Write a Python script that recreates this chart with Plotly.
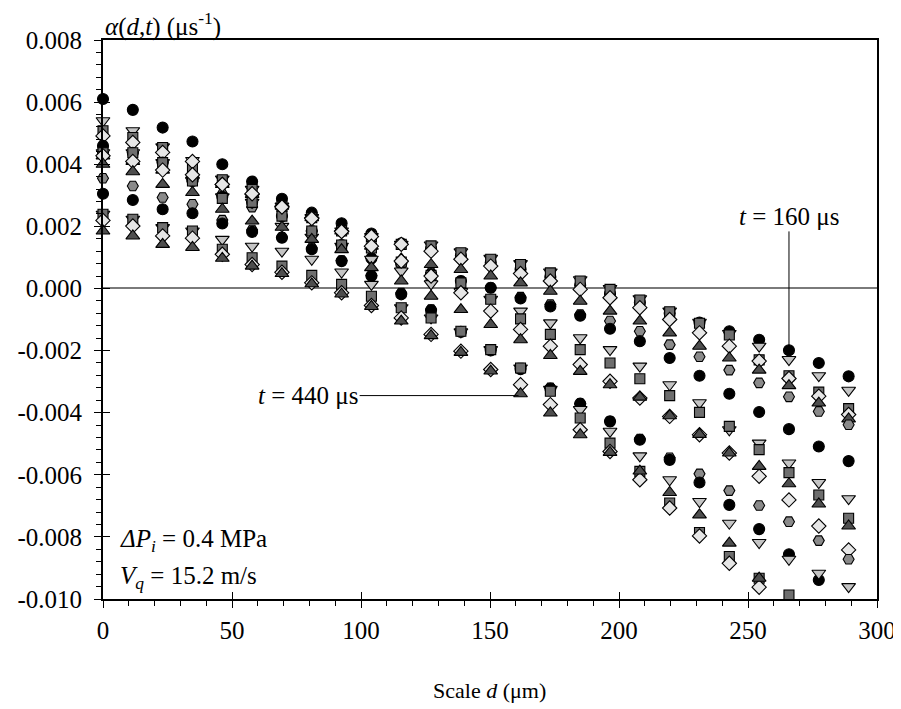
import plotly.graph_objects as go

# ---------------- data ----------------
d_um = [0, 11.56, 23.12, 34.68, 46.24, 57.8, 69.36, 80.92, 92.48, 104.04, 115.6, 127.16, 138.72,
        150.28, 161.84, 173.4, 184.96, 196.52, 208.08, 219.64, 231.2, 242.76, 254.32, 265.88, 277.44, 289.0]

times_us = [160, 177.5, 195, 212.5, 230, 247.5, 265, 282.5, 300, 317.5, 335, 352.5, 370, 387.5, 405, 422.5, 440]

alpha_t160 = [0.00610, 0.00575, 0.00518, 0.00473, 0.00400, 0.00344, 0.00289, 0.00244, 0.00210, 0.00177, 0.00145, 0.00128, 0.00105,
              0.00083, 0.00062, 0.00037, 0.00010, -0.00017, -0.00045, -0.00080, -0.00110, -0.00138, -0.00165, -0.00199, -0.00240, -0.00283]
alpha_t177 = [0.00540, 0.00508, 0.00456, 0.00412, 0.00352, 0.00319, 0.00265, 0.00228, 0.00185, 0.00167, 0.00142, 0.00140, 0.00118,
              0.00097, 0.00080, 0.00053, 0.00028, 0.00000, -0.00033, -0.00073, -0.00109, -0.00145, -0.00186, -0.00229, -0.00281, -0.00328]
alpha_t195 = [0.00508, 0.00486, 0.00454, 0.00384, 0.00350, 0.00319, 0.00265, 0.00228, 0.00185, 0.00167, 0.00142, 0.00137, 0.00115,
              0.00094, 0.00077, 0.00050, 0.00024, -0.00003, -0.00037, -0.00075, -0.00112, -0.00150, -0.00230, -0.00281, -0.00334, -0.00387]
alpha_t212 = [0.00491, 0.00470, 0.00438, 0.00409, 0.00335, 0.00303, 0.00265, 0.00228, 0.00185, 0.00167, 0.00142, 0.00120, 0.00094,
              0.00072, 0.00048, 0.00024, -0.00003, -0.00030, -0.00062, -0.00100, -0.00143, -0.00186, -0.00234, -0.00290, -0.00347, -0.00406]
alpha_t230 = [0.00427, 0.00409, 0.00381, 0.00366, 0.00335, 0.00303, 0.00265, 0.00228, 0.00185, 0.00136, 0.00095, 0.00077, 0.00061,
              0.00040, 0.00018, -0.00009, -0.00041, -0.00073, -0.00105, -0.00143, -0.00186, -0.00224, -0.00263, -0.00313, -0.00369, -0.00420]
alpha_t247 = [0.00437, 0.00437, 0.00405, 0.00346, 0.00303, 0.00262, 0.00233, 0.00185, 0.00140, 0.00097, 0.00080, 0.00050, 0.00024,
              0.00002, -0.00028, -0.00052, -0.00084, -0.00105, -0.00138, -0.00181, -0.00220, -0.00263, -0.00304, -0.00349, -0.00396, -0.00439]
alpha_t265 = [0.00459, 0.00437, 0.00405, 0.00346, 0.00295, 0.00277, 0.00233, 0.00185, 0.00140, 0.00097, 0.00080, 0.00045, 0.00024,
              0.00002, -0.00032, -0.00058, -0.00088, -0.00130, -0.00170, -0.00224, -0.00281, -0.00339, -0.00398, -0.00453, -0.00509, -0.00556]
alpha_t282 = [0.00437, 0.00437, 0.00405, 0.00346, 0.00295, 0.00277, 0.00200, 0.00165, 0.00136, 0.00094, 0.00056, 0.00015, -0.00010,
              -0.00035, -0.00073, -0.00111, -0.00159, -0.00197, -0.00250, -0.00310, -0.00368, -0.00455, -0.00498, -0.00562, -0.00625, -0.00677]
alpha_t300 = [0.00437, 0.00437, 0.00405, 0.00346, 0.00290, 0.00277, 0.00233, 0.00185, 0.00140, 0.00130, 0.00085, 0.00042, 0.00018,
              -0.00035, -0.00098, -0.00148, -0.00197, -0.00240, -0.00291, -0.00345, -0.00399, -0.00444, -0.00519, -0.00593, -0.00665, -0.00740]
alpha_t317 = [0.00427, 0.00409, 0.00381, 0.00366, 0.00335, 0.00305, 0.00262, 0.00225, 0.00183, 0.00136, 0.00088, 0.00040, -0.00014,
              -0.00073, -0.00132, -0.00186, -0.00245, -0.00299, -0.00353, -0.00412, -0.00471, -0.00530, -0.00605, -0.00681, -0.00765, -0.00842]
alpha_t335 = [0.00400, 0.00376, 0.00335, 0.00309, 0.00255, 0.00217, 0.00197, 0.00158, 0.00125, 0.00067, 0.00024, -0.00025, -0.00068,
              -0.00116, -0.00165, -0.00216, -0.00267, -0.00310, -0.00350, -0.00410, -0.00470, -0.00530, -0.00573, -0.00629, -0.00694, -0.00765]
alpha_t352 = [0.00355, 0.00330, 0.00293, 0.00271, 0.00220, 0.00188, 0.00165, 0.00130, 0.00090, 0.00042, -0.00015, -0.00068, -0.00138,
              -0.00197, -0.00256, -0.00320, -0.00371, -0.00428, -0.00485, -0.00545, -0.00597, -0.00651, -0.00699, -0.00751, -0.00812, -0.00872]
alpha_t370 = [0.00305, 0.00285, 0.00255, 0.00242, 0.00209, 0.00182, 0.00163, 0.00126, 0.00088, 0.00040, -0.00019, -0.00070, -0.00140,
              -0.00200, -0.00260, -0.00322, -0.00371, -0.00428, -0.00487, -0.00552, -0.00625, -0.00697, -0.00775, -0.00856, -0.00939, None]
alpha_t387 = [0.00239, 0.00223, 0.00196, 0.00185, 0.00158, 0.00136, 0.00120, 0.00094, 0.00053, 0.00013, -0.00062, -0.00095, -0.00140,
              -0.00197, -0.00256, -0.00325, -0.00390, -0.00460, -0.00539, -0.00616, -0.00686, -0.00756, -0.00818, -0.00872, -0.00917, -0.00960]
alpha_t405 = [0.00239, 0.00223, 0.00196, 0.00185, 0.00126, 0.00099, 0.00072, 0.00042, 0.00013, -0.00025, -0.00062, -0.00095, -0.00138,
              -0.00197, -0.00256, -0.00331, -0.00417, -0.00498, -0.00589, -0.00691, -0.00786, -0.00863, -0.00933, -0.00987, None, None]
alpha_t422 = [0.00219, 0.00201, 0.00169, 0.00162, 0.00110, 0.00077, 0.00052, 0.00018, -0.00014, -0.00055, -0.00095, -0.00148, -0.00202,
              -0.00261, -0.00310, -0.00374, -0.00455, -0.00525, -0.00616, -0.00707, -0.00797, -0.00885, -0.00962, None, None, None]
alpha_t440 = [0.00185, 0.00169, 0.00142, 0.00132, 0.00097, 0.00072, 0.00048, 0.00015, -0.00018, -0.00058, -0.00105, -0.00152, -0.00206,
              -0.00266, -0.00339, -0.00401, -0.00471, -0.00528, -0.00588, -0.00657, -0.00729, -0.00820, -0.00933, None, None, None]

alpha_series = [alpha_t160, alpha_t177, alpha_t195, alpha_t212, alpha_t230, alpha_t247, alpha_t265, alpha_t282, alpha_t300,
                alpha_t317, alpha_t335, alpha_t352, alpha_t370, alpha_t387, alpha_t405, alpha_t422, alpha_t440]

y_tick_vals = [-0.010, -0.008, -0.006, -0.004, -0.002, 0.000, 0.002, 0.004, 0.006, 0.008]
y_tick_text = ["-0.010", "-0.008", "-0.006", "-0.004", "-0.002", "0.000", "0.002", "0.004", "0.006", "0.008"]
x_tick_vals = [0, 50, 100, 150, 200, 250, 300]
x_tick_text = ["0", "50", "100", "150", "200", "250", "300"]

# ---------------- styles ----------------
FONT = "Liberation Serif"
marker_cycle = [
    dict(symbol="circle", color="#000000", size=11),
    dict(symbol="triangle-down", color="#c4c4c4", size=12),
    dict(symbol="square", color="#6e6e6e", size=10),
    dict(symbol="diamond", color="#e6e6e6", size=11),
    dict(symbol="triangle-up", color="#4e4e4e", size=12),
    dict(symbol="hexagon2", color="#8a8a8a", size=11),
]

fig = go.Figure()
for i, (t, vals) in enumerate(zip(times_us, alpha_series)):
    m = marker_cycle[i % len(marker_cycle)]
    fig.add_trace(go.Scatter(
        x=d_um, y=vals, mode="markers", name=f"t = {t} μs",
        marker=dict(symbol=m["symbol"], color=m["color"], size=m["size"],
                    line=dict(color="#000000", width=1.1)),
        cliponaxis=False, showlegend=False))

# dummy trace for overlay axes (crossing tick marks + labels)
fig.add_trace(go.Scatter(x=[None], y=[None], xaxis="x2", yaxis="y2", showlegend=False, hoverinfo="skip"))

XR = [0, 300]
YR = [-0.010, 0.008]

# page body has an 8 px offset, so the figure is 8 px smaller than the window
fig.update_layout(
    width=893, height=701,
    margin=dict(l=95, r=24, t=32, b=110),
    paper_bgcolor="white", plot_bgcolor="white",
    font=dict(family=FONT, size=25, color="black"),
    xaxis=dict(range=XR, tickmode="linear", tick0=0, dtick=50, ticks="outside", ticklen=7, tickwidth=1.3,
               tickcolor="black", showticklabels=False, showline=True, linecolor="black", linewidth=1.5,
               mirror=True, showgrid=False, zeroline=False, automargin=False,
               minor=dict(ticks="outside", ticklen=5, tickwidth=1, tickcolor="black", dtick=10)),
    yaxis=dict(range=YR, tickmode="linear", tick0=-0.010, dtick=0.002, ticks="outside", ticklen=7, tickwidth=1.3,
               tickcolor="black", showticklabels=False, showline=True, linecolor="black", linewidth=1.5,
               mirror=True, showgrid=False, zeroline=True, zerolinecolor="#7a7a7a", zerolinewidth=2,
               automargin=False,
               minor=dict(ticks="outside", ticklen=5, tickwidth=1, tickcolor="black", dtick=0.0004)),
    xaxis2=dict(range=XR, overlaying="x", anchor="y2", side="bottom", tickmode="array",
                tickvals=x_tick_vals, ticktext=x_tick_text, ticks="inside", ticklen=7, tickwidth=1.3,
                tickcolor="black", showline=False, showgrid=False, zeroline=False, automargin=False,
                tickfont=dict(family=FONT, size=25, color="black"), ticklabelstandoff=14),
    yaxis2=dict(range=YR, overlaying="y", anchor="x2", side="left", tickmode="array",
                tickvals=y_tick_vals, ticktext=y_tick_text, ticks="inside", ticklen=7, tickwidth=1.3,
                tickcolor="black", showline=False, showgrid=False, zeroline=False, automargin=False,
                tickfont=dict(family=FONT, size=25, color="black"), ticklabelstandoff=20),
)

ann_font = dict(family=FONT, size=25, color="black")
fig.add_annotation(xref="paper", yref="paper", x=0.0, y=1.0, xanchor="left", yanchor="bottom", yshift=-3,
                   text="<i>α</i>(<i>d</i>,<i>t</i>) (μs<sup>-1</sup>)", showarrow=False, font=ann_font)
fig.add_annotation(xref="paper", yref="paper", x=0.499, y=-0.163, xanchor="center", yanchor="middle",
                   text="Scale <i>d</i> (μm)", showarrow=False, font=dict(family=FONT, size=22, color="black"))
fig.add_annotation(xref="paper", yref="paper", x=0.02, y=0.1055, xanchor="left", yanchor="middle",
                   text="<i>ΔP<sub>i</sub></i> = 0.4 MPa", showarrow=False, font=ann_font)
fig.add_annotation(xref="paper", yref="paper", x=0.02, y=0.039, xanchor="left", yanchor="middle",
                   text="<i>V<sub>q</sub></i> = 15.2 m/s", showarrow=False, font=ann_font)
# t = 160 us label with leader line to its point
fig.add_annotation(x=d_um[23], y=alpha_t160[23], xref="x", yref="y", axref="x", ayref="y",
                   ax=d_um[23], ay=0.00232, text="<i>t</i> = 160 μs", showarrow=True, arrowhead=0,
                   arrowwidth=1, arrowcolor="black", standoff=5, font=ann_font)
# t = 440 us label with leader line to its point
fig.add_annotation(x=d_um[14], y=-0.00345, xref="x", yref="y", axref="x", ayref="y",
                   ax=79.5, ay=-0.00345, text="<i>t</i> = 440 μs", showarrow=True, arrowhead=0,
                   arrowwidth=1, arrowcolor="black", standoff=2, font=ann_font)

fig.write_html("out.html")
